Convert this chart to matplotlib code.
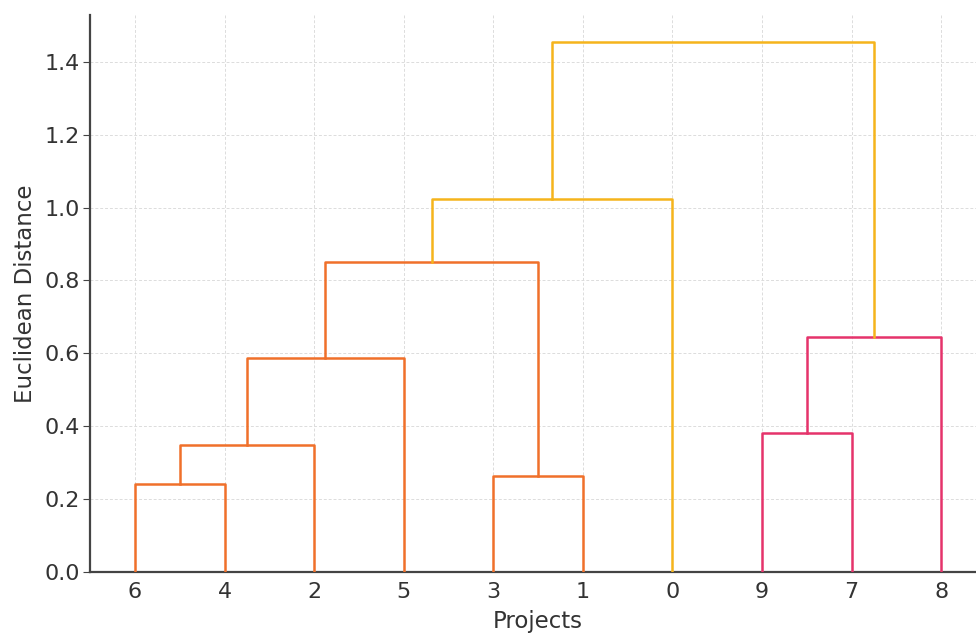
import numpy as np
import matplotlib.pyplot as plt

# merges: (left, right, height); leaves are 0-9, new clusters start at 10
merge_left = [6, 10, 3, 9, 11, 13, 14, 16, 17]
merge_right = [4, 2, 1, 7, 5, 8, 12, 0, 15]
merge_height = [0.242, 0.349, 0.264, 0.382, 0.587, 0.645, 0.851, 1.024, 1.455]
merge_color = ["o", "o", "o", "p", "o", "p", "o", "g", "g"]

palette = {"o": "#F0702A", "p": "#E5336B", "g": "#F5B41C"}
n_leaves = 10


def leaf_order(node):
    if node < n_leaves:
        return [node]
    k = node - n_leaves
    return leaf_order(merge_left[k]) + leaf_order(merge_right[k])


root = n_leaves + len(merge_height) - 1
order = leaf_order(root)
xpos = {leaf: 5 + 10 * i for i, leaf in enumerate(order)}
ypos = {leaf: 0.0 for leaf in order}

fig = plt.figure(figsize=(9.76, 6.34), dpi=100)
ax = fig.add_axes([0.0925, 0.098, 0.9176, 0.878])

for k in range(len(merge_height)):
    a, b, h = merge_left[k], merge_right[k], merge_height[k]
    xa, xb = xpos[a], xpos[b]
    ax.plot([xa, xa, xb, xb], [ypos[a], h, h, ypos[b]],
            color=palette[merge_color[k]], lw=1.8, zorder=3)
    xpos[n_leaves + k] = (xa + xb) / 2
    ypos[n_leaves + k] = h

ax.set_xlim(0, 10 * n_leaves)
ax.set_ylim(0, max(merge_height) * 1.05)
ax.set_xticks([xpos[l] for l in order])
ax.set_xticklabels([str(l) for l in order])
ax.set_yticks(np.arange(0, 1.41, 0.2))

ax.grid(True, color="#dcdcdc", ls=(0, (3, 2)), lw=0.7, zorder=0)
for s in ["top", "right"]:
    ax.spines[s].set_visible(False)
for s in ["left", "bottom"]:
    ax.spines[s].set_color("#444444")
    ax.spines[s].set_linewidth(1.6)
ax.tick_params(axis="x", length=0, pad=7, labelsize=16, labelcolor="#333333")
ax.tick_params(axis="y", length=5, pad=2.5, color="#444444", labelsize=16, labelcolor="#333333")

ax.set_xlabel("Projects", fontsize=16.5, color="#333333", labelpad=6)
ax.set_ylabel("Euclidean Distance", fontsize=16.5, color="#333333", labelpad=5)

fig.savefig("out.png", dpi=100)
